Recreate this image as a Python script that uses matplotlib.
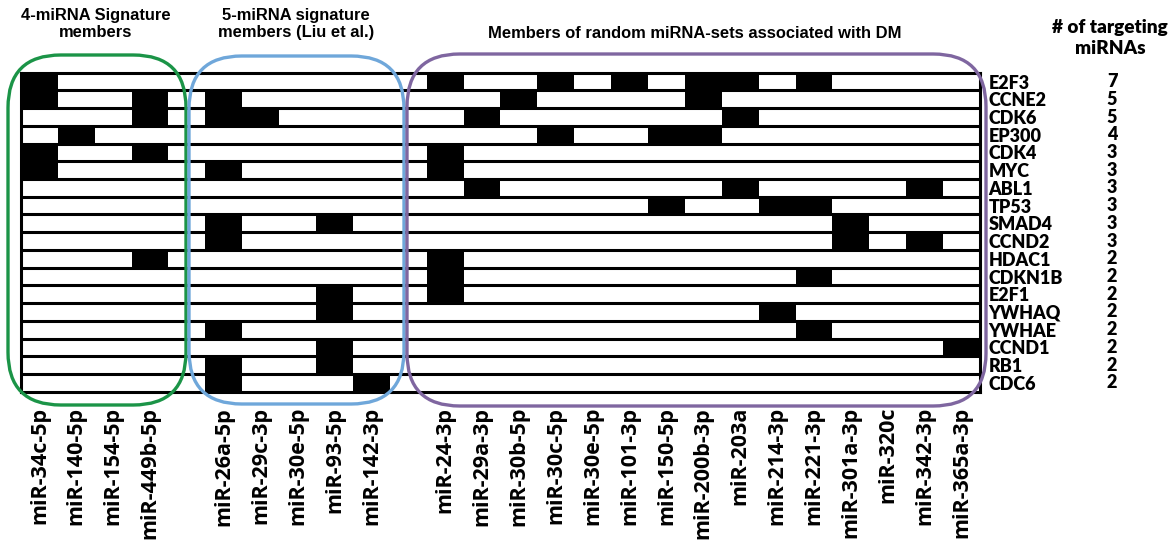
import matplotlib
matplotlib.use("Agg")
import matplotlib.pyplot as plt
import numpy as np
from matplotlib.colors import ListedColormap
from matplotlib.patches import FancyBboxPatch
from matplotlib.transforms import blended_transform_factory

sig4 = ['miR-34c-5p', 'miR-140-5p', 'miR-154-5p', 'miR-449b-5p']
liu5 = ['miR-26a-5p', 'miR-29c-3p', 'miR-30e-5p', 'miR-93-5p', 'miR-142-3p']
rand15 = ['miR-24-3p', 'miR-29a-3p', 'miR-30b-5p', 'miR-30c-5p', 'miR-30e-5p',
          'miR-101-3p', 'miR-150-5p', 'miR-200b-3p', 'miR-203a', 'miR-214-3p',
          'miR-221-3p', 'miR-301a-3p', 'miR-320c', 'miR-342-3p', 'miR-365a-3p']

genes = ['E2F3', 'CCNE2', 'CDK6', 'EP300', 'CDK4', 'MYC', 'ABL1', 'TP53', 'SMAD4',
         'CCND2', 'HDAC1', 'CDKN1B', 'E2F1', 'YWHAQ', 'YWHAE', 'CCND1', 'RB1', 'CDC6']

# which columns hit each gene: (group, index in group)
hits = {
    'E2F3':   [('s', 0), ('r', 0), ('r', 3), ('r', 5), ('r', 7), ('r', 8), ('r', 10)],
    'CCNE2':  [('s', 0), ('s', 3), ('l', 0), ('r', 2), ('r', 7)],
    'CDK6':   [('s', 3), ('l', 0), ('l', 1), ('r', 1), ('r', 8)],
    'EP300':  [('s', 1), ('r', 3), ('r', 6), ('r', 7)],
    'CDK4':   [('s', 0), ('s', 3), ('r', 0)],
    'MYC':    [('s', 0), ('l', 0), ('r', 0)],
    'ABL1':   [('r', 1), ('r', 8), ('r', 13)],
    'TP53':   [('r', 6), ('r', 9), ('r', 10)],
    'SMAD4':  [('l', 0), ('l', 3), ('r', 11)],
    'CCND2':  [('l', 0), ('r', 11), ('r', 13)],
    'HDAC1':  [('s', 3), ('r', 0)],
    'CDKN1B': [('r', 0), ('r', 10)],
    'E2F1':   [('l', 3), ('r', 0)],
    'YWHAQ':  [('l', 3), ('r', 9)],
    'YWHAE':  [('l', 0), ('r', 10)],
    'CCND1':  [('l', 3), ('r', 14)],
    'RB1':    [('l', 0), ('l', 3)],
    'CDC6':   [('l', 0), ('l', 4)],
}

# one empty column between the groups
cols = sig4 + [''] + liu5 + [''] + rand15
offset = {'s': 0, 'l': len(sig4) + 1, 'r': len(sig4) + len(liu5) + 2}

mat = np.zeros((len(genes), len(cols)))
for i, g in enumerate(genes):
    for grp, j in hits[g]:
        mat[i, offset[grp] + j] = 1
counts = mat.sum(axis=1).astype(int)

W, H = 1173, 544
fig = plt.figure(figsize=(W / 100, H / 100), dpi=100)

def px(x0, y0, x1, y1):
    # pixel box -> figure fraction rect
    return [x0 / W, 1 - y1 / H, (x1 - x0) / W, (y1 - y0) / H]

ax = fig.add_axes(px(21, 72.7, 980, 391.7))
ax.imshow(mat, cmap=ListedColormap(['white', 'black']), aspect='auto',
          interpolation='nearest', vmin=0, vmax=1)
ax.hlines(np.arange(0.5, len(genes) - 0.5), -0.5, len(cols) - 0.5, color='black', lw=2.2)
for s in ax.spines.values():
    s.set_linewidth(2.2)

ax.set_xticks(range(len(cols)))
ax.set_xticklabels(cols, rotation=90, va='top', ha='center',
                   family='Open Sans', weight='bold', size=15.5)
ax.tick_params(axis='x', length=0, pad=11)
ax.yaxis.tick_right()
ax.set_yticks(range(len(genes)))
ax.set_yticklabels(genes, family='Lato', weight='heavy', size=13)
ax.tick_params(axis='y', length=0, pad=6)

tr = blended_transform_factory(fig.transFigure, ax.transData)
for i, c in enumerate(counts):
    ax.text(1112 / W, i, str(c), transform=tr, ha='center', va='center',
            family='Lato', weight='heavy', size=13, clip_on=False)

# rounded group boxes
boxes = [((8, 55, 186, 405), '#1b9447'),
         ((189, 56, 404, 404), '#6fa7da'),
         ((407, 54, 986, 406), '#7f66a0')]
for (x0, y0, x1, y1), col in boxes:
    r = px(x0, y0, x1, y1)
    fig.patches.append(FancyBboxPatch((r[0], r[1]), r[2], r[3],
                                      boxstyle='round,pad=0,rounding_size=0.045',
                                      transform=fig.transFigure, fill=False,
                                      ec=col, lw=2.4, mutation_aspect=W / H))

head = dict(family='Liberation Sans', weight='bold', size=11.9, ha='center', va='center',
            linespacing=1.1)
fig.text(96 / W, 1 - 24 / H, '4-miRNA Signature\nmembers', **head)
fig.text(296 / W, 1 - 24 / H, '5-miRNA signature\nmembers (Liu et al.)', **head)
fig.text(695 / W, 1 - 34 / H, 'Members of random miRNA-sets associated with DM', **head)
fig.text(1110 / W, 1 - 38 / H, '# of targeting\nmiRNAs', family='Lato', weight='heavy',
         size=13.7, ha='center', va='center', linespacing=1.25)

fig.savefig('out.png', dpi=100)
